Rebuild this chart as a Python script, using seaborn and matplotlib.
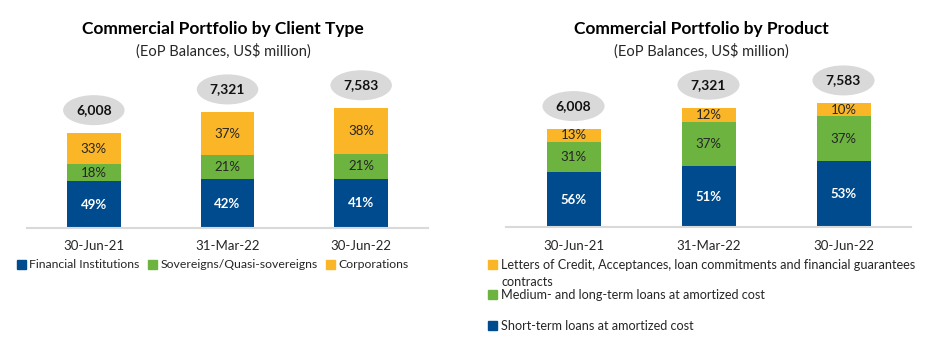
import numpy as np
import pandas as pd
import matplotlib.pyplot as plt
import seaborn as sns
from matplotlib.patches import Ellipse, Patch

sns.set_style("white")
plt.rcParams['font.family'] = ['Lato', 'DejaVu Sans']

# data
dates = ["30-Jun-21", "31-Mar-22", "30-Jun-22"]
totals = [6008, 7321, 7583]

client_segments = ["Financial Institutions", "Sovereigns/Quasi-sovereigns", "Corporations"]
client_fi = [49, 42, 41]
client_sov = [18, 21, 21]
client_corp = [33, 37, 38]

product_segments = ["Short-term loans at amortized cost",
                    "Medium- and long-term loans at amortized cost",
                    "Letters of Credit, Acceptances, loan commitments and financial guarantees"]
prod_short = [56, 51, 53]
prod_medium = [31, 37, 37]
prod_lc = [13, 12, 10]

BLUE = "#004B8D"
GREEN = "#6CB33F"
YELLOW = "#FBB627"
GREY = "#D9D9D9"
colors = [BLUE, GREEN, YELLOW]


def stacked(ax, shares, ymax, ell_off, ell_h):
    # long table: one row per date and segment, value in US$ million
    rows = []
    for k, pcts in enumerate(shares):
        for i, d in enumerate(dates):
            rows.append({"date": d, "seg": k, "pct": pcts[i],
                         "value": pcts[i] * totals[i] / 100})
    df = pd.DataFrame(rows)
    df["cum"] = df.groupby("date")["value"].cumsum()
    df["start"] = df["cum"] - df["value"]

    # draw cumulative bars top segment first
    for k in reversed(range(len(shares))):
        sub = df[df["seg"] == k]
        sns.barplot(data=sub, x="date", y="cum", order=dates, color=colors[k],
                    saturation=1, width=0.4, linewidth=0, ax=ax)

    for _, r in df.iterrows():
        i = dates.index(r["date"])
        mid = r["start"] + r["value"] / 2
        if r["seg"] == 0:
            ax.text(i, mid, f"{r['pct']}%", ha="center", va="center",
                    color="white", fontsize=9.5, fontweight="bold")
        else:
            ax.text(i, mid, f"{r['pct']}%", ha="center", va="center",
                    color="#262626", fontsize=9.5)

    for i, t in enumerate(totals):
        ax.add_patch(Ellipse((i, t + ell_off), 0.46, ell_h, color=GREY,
                             clip_on=False, linewidth=0))
        ax.text(i, t + ell_off, f"{t:,}", ha="center", va="center",
                fontsize=10, fontweight="bold", color="#111111")

    ax.set_xlim(-0.5, 2.5)
    ax.set_ylim(0, ymax)
    ax.set_xlabel("")
    ax.set_ylabel("")
    ax.set_yticks([])
    for s in ["top", "left", "right"]:
        ax.spines[s].set_visible(False)
    ax.spines["bottom"].set_color(GREY)
    ax.spines["bottom"].set_linewidth(1.5)
    ax.tick_params(axis="x", length=0, pad=9, labelsize=9.5, labelcolor="#262626")


W, H = 926, 353
fig = plt.figure(figsize=(W / 100, H / 100), dpi=100)

ax1 = fig.add_axes([27 / W, 1 - 228 / H, 401 / W, 168 / H])
stacked(ax1, [client_fi, client_sov, client_corp], 168 / 0.0158, 1450, 1900)

ax2 = fig.add_axes([506 / W, 1 - 227 / H, 405 / W, 167 / H])
stacked(ax2, [prod_short, prod_medium, prod_lc], 167 / 0.0163, 1410, 1840)

# titles
for cx, title in [(223, "Commercial Portfolio by Client Type"),
                  (701, "Commercial Portfolio by Product")]:
    fig.text(cx / W, 1 - 29 / H, title, ha="center", va="center",
             fontsize=12.5, fontweight="bold", color="black")
    fig.text(cx / W, 1 - 51 / H, "(EoP Balances, US$ million)", ha="center",
             va="center", fontsize=10.5, color="#262626")

# legends
h1 = [Patch(color=c) for c in colors]
fig.legend(h1, client_segments, loc="center left", bbox_to_anchor=(17 / W, 1 - 265 / H),
           ncol=3, frameon=False, fontsize=8.8, handlelength=0.7, handleheight=0.7,
           handletextpad=0.3, columnspacing=0.7, borderpad=0, borderaxespad=0,
           labelcolor="#262626")

h2 = [Patch(color=YELLOW), Patch(color=GREEN), Patch(color=BLUE)]
fig.legend(h2, [product_segments[2], product_segments[1], product_segments[0]],
           loc="upper left", bbox_to_anchor=(488 / W, 1 - 259 / H), ncol=1,
           frameon=False, fontsize=9.1, handlelength=0.7, handleheight=0.7,
           handletextpad=0.3, labelspacing=1.45, borderpad=0, borderaxespad=0,
           labelcolor="#262626")
fig.text(502 / W, 1 - 282 / H, "contracts", ha="left", va="center",
         fontsize=9.1, color="#262626")

fig.savefig("out.png", dpi=100)
